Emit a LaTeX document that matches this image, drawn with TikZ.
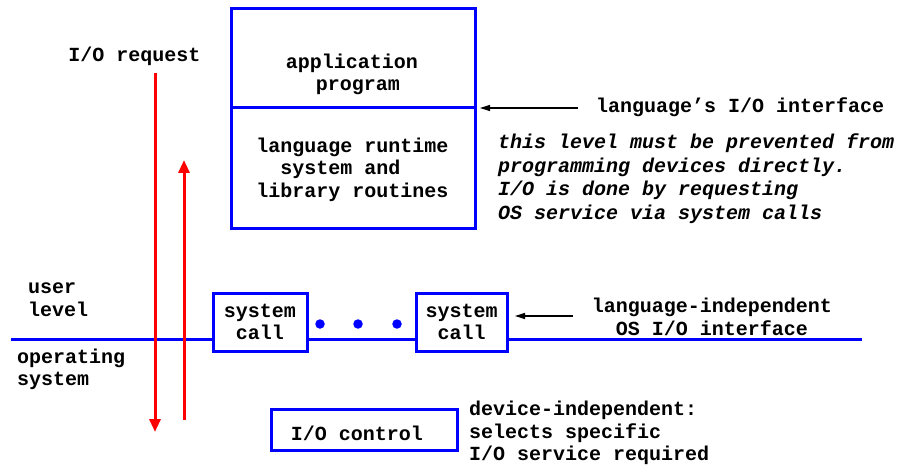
\documentclass[tikz,border=0pt]{standalone}
\usepackage{fontspec}
\newfontfamily\cour{Liberation Mono}
\usetikzlibrary{arrows.meta,calc}
\definecolor{bblue}{RGB}{0,0,255}
\definecolor{rred}{RGB}{255,0,0}
\tikzset{
  txt/.style={inner sep=0pt, font=\cour\bfseries\fontsize{20}{22.5}\selectfont},
  itxt/.style={inner sep=0pt, font=\cour\bfseries\itshape\fontsize{20}{23.5}\selectfont},
  bbox/.style={draw=bblue, line width=3pt, inner sep=0pt, rectangle},
  bline/.style={draw=bblue, line width=3pt},
  rarrow/.style={draw=rred, line width=3pt, -{Triangle[width=11pt,length=13pt]}, rred},
  karrow/.style={draw=black, line width=1.2pt, -{Triangle[width=6pt,length=10pt]}},
  bdot/.style={circle, fill=bblue, inner sep=0pt, minimum size=9.5pt}
}
\begin{document}
\begin{tikzpicture}[x=1pt,y=-1pt]
\useasboundingbox (0,0) rectangle (904,465);
% top boxes
\node[bbox, minimum width=244pt, minimum height=99pt] (app) at (353,58.5) {};
\node[bbox, minimum width=244pt, minimum height=120pt] (lib) at (353,168) {};
\node[txt, align=center] (apptxt) at (352,74.5) {application\\\mbox{\hspace{12pt}program}};
\node[txt, align=left] (libtxt) at (352.5,169.5) {language runtime\\\mbox{\hspace{24pt}system and}\\library routines};
% system call boxes
\node[bbox, minimum width=94pt, minimum height=58pt, txt, align=center] (sc1) at (260,322) {system\\call};
\node[bbox, minimum width=91pt, minimum height=58pt, txt, align=center] (sc2) at (461.5,322) {system\\call};
\node[bdot] (d1) at (320,324) {};
\node[bdot] (d2) at (358,324) {};
\node[bdot] (d3) at (397,324) {};
% blue level line
\coordinate (L) at (11,339);
\coordinate (R) at (862,339);
\draw[bline] (L) -- (L -| sc1.west);
\draw[bline] (L -| sc1.east) -- (L -| sc2.west);
\draw[bline] (L -| sc2.east) -- (R);
% I/O control
\node[bbox, minimum width=186pt, minimum height=41pt] (ioc) at (364,429.5) {};
\node[txt] (ioctxt) at (357,433) {I/O control};
% labels
\node[txt] (ioreq) at (134.5,56) {I/O request};
\node[txt, align=left, anchor=west] (user) at (28,299.5) {user\\level};
\node[txt, align=left, anchor=west] (os) at (17,369.5) {operating\\system};
\node[txt, anchor=west] (langif) at (596,107) {language’s I/O interface};
\node[itxt, align=left, anchor=west] (note) at (498,178.5) {this level must be prevented from\\programming devices directly.\\I/O is done by requesting\\OS service via system calls};
\node[txt, align=center] (indep) at (712,317) {language-independent\\OS I/O interface};
\node[txt, align=left, anchor=west] (devind) at (469,433) {device-independent:\\selects specific\\I/O service required};
% black arrows
\coordinate (a1s) at (578,108);
\coordinate (a1e) at (480,108);
\draw[karrow] (a1s) -- (a1e);
\coordinate (a2s) at (573,316);
\coordinate (a2e) at (515,316);
\draw[karrow] (a2s) -- (a2e);
% red arrows
\coordinate (dtop) at (155,73);
\coordinate (dbot) at (155,432);
\coordinate (ubot) at (184,420);
\coordinate (utop) at (184,160);
\draw[rarrow] (dtop) -- (dbot);
\draw[rarrow] (ubot) -- (utop);
\end{tikzpicture}
\end{document}
